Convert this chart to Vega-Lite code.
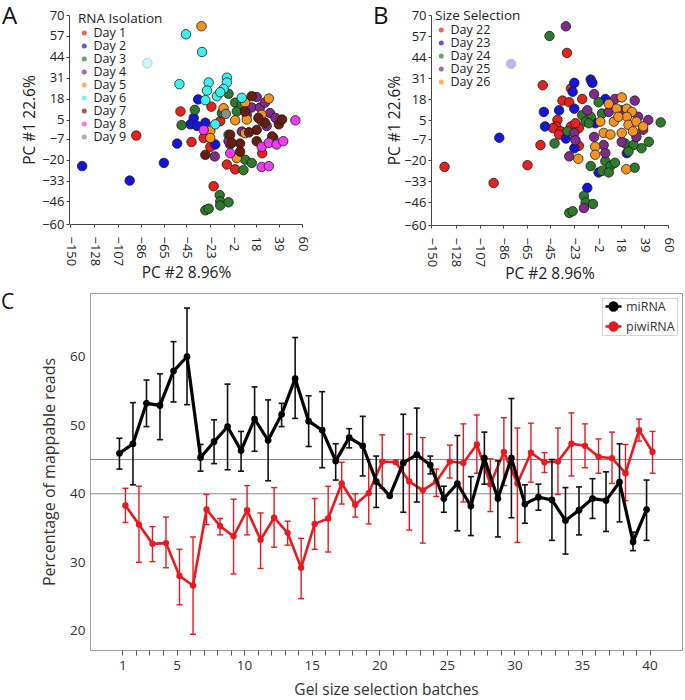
{
  "$schema": "https://vega.github.io/schema/vega-lite/v6.json",
  "padding": {"left": 0, "top": 5, "right": 0, "bottom": 0},
  "spacing": 8,
  "config": {
    "view": {"stroke": null},
    "font": "Open Sans",
    "axis": {"grid": false, "labelColor": "#222", "titleColor": "#222", "titleFontWeight": "normal", "domainColor": "#444", "tickColor": "#444"},
    "title": {"fontWeight": "normal", "fontSize": 24, "anchor": "start", "color": "#111", "frame": "group"},
    "legend": {"titleFontWeight": "normal", "labelColor": "#222", "titleColor": "#222"}
  },
  "resolve": {"scale": {"color": "independent"}},
  "datasets": {
    "pcaA": [
      {"day":"Day 1","x":-50,"y":10,"status":"shown"},{"day":"Day 1","x":-90,"y":-5,"status":"shown"},{"day":"Day 1","x":-40,"y":-9,"status":"shown"},{"day":"Day 1","x":-22,"y":13,"status":"shown"},{"day":"Day 1","x":-29,"y":-6.5,"status":"shown"},{"day":"Day 1","x":-23,"y":-12,"status":"shown"},{"day":"Day 1","x":-14,"y":4,"status":"shown"},{"day":"Day 1","x":-8,"y":-23,"status":"shown"},{"day":"Day 1","x":-0.5,"y":-26,"status":"shown"},{"day":"Day 1","x":24,"y":-16,"status":"shown"},{"day":"Day 1","x":-20,"y":-36.5,"status":"shown"},
      {"day":"Day 2","x":-139,"y":-24,"status":"shown"},{"day":"Day 2","x":-96,"y":-33,"status":"shown"},{"day":"Day 2","x":-65,"y":-22,"status":"shown"},{"day":"Day 2","x":-53,"y":-10,"status":"shown"},{"day":"Day 2","x":-34,"y":17.5,"status":"shown"},{"day":"Day 2","x":-38,"y":6,"status":"shown"},{"day":"Day 2","x":-41,"y":2,"status":"shown"},{"day":"Day 2","x":-35,"y":1,"status":"shown"},{"day":"Day 2","x":-27.5,"y":3,"status":"shown"},{"day":"Day 2","x":-18.5,"y":-10.5,"status":"shown"},
      {"day":"Day 3","x":-49,"y":1.5,"status":"shown"},{"day":"Day 3","x":-37,"y":11,"status":"shown"},{"day":"Day 3","x":-6.5,"y":21,"status":"shown"},{"day":"Day 3","x":-0.5,"y":15.5,"status":"shown"},{"day":"Day 3","x":-12.5,"y":9,"status":"shown"},{"day":"Day 3","x":1,"y":10,"status":"shown"},{"day":"Day 3","x":-6.5,"y":-4.5,"status":"shown"},{"day":"Day 3","x":8.5,"y":-20,"status":"shown"},{"day":"Day 3","x":14.5,"y":-22,"status":"shown"},{"day":"Day 3","x":7,"y":-26.5,"status":"shown"},{"day":"Day 3","x":5.5,"y":14.5,"status":"shown"},{"day":"Day 3","x":-27.5,"y":-51.5,"status":"shown"},{"day":"Day 3","x":-24.5,"y":-50.5,"status":"shown"},{"day":"Day 3","x":-14.5,"y":-42,"status":"shown"},{"day":"Day 3","x":-14,"y":-46,"status":"shown"},{"day":"Day 3","x":-14,"y":-48.5,"status":"shown"},{"day":"Day 3","x":-6.5,"y":-46.5,"status":"shown"},
      {"day":"Day 4","x":19,"y":19,"status":"shown"},{"day":"Day 4","x":14.5,"y":12.5,"status":"shown"},{"day":"Day 4","x":22,"y":12.5,"status":"shown"},{"day":"Day 4","x":31,"y":9,"status":"shown"},{"day":"Day 4","x":5.5,"y":-2.5,"status":"shown"},{"day":"Day 4","x":-5,"y":-10.5,"status":"shown"},{"day":"Day 4","x":-19,"y":-18,"status":"shown"},{"day":"Day 4","x":34,"y":-6.5,"status":"shown"},{"day":"Day 4","x":23.5,"y":4,"status":"shown"},{"day":"Day 4","x":26.5,"y":15.5,"status":"shown"},{"day":"Day 4","x":36,"y":6,"status":"shown"},{"day":"Day 4","x":-6.5,"y":-8.5,"status":"shown"},{"day":"Day 4","x":10,"y":8,"status":"shown"},{"day":"Day 4","x":28,"y":1,"status":"shown"},
      {"day":"Day 5","x":-31,"y":63,"status":"shown"},{"day":"Day 5","x":-11,"y":12,"status":"shown"},{"day":"Day 5","x":-23,"y":-2,"status":"shown"},{"day":"Day 5","x":-23,"y":-6.5,"status":"shown"},{"day":"Day 5","x":-0.5,"y":4.5,"status":"shown"},{"day":"Day 5","x":8.5,"y":15.5,"status":"shown"},{"day":"Day 5","x":8.5,"y":-3.5,"status":"shown"},{"day":"Day 5","x":30,"y":18,"status":"shown"},{"day":"Day 5","x":23.5,"y":8,"status":"shown"},{"day":"Day 5","x":1,"y":-19,"status":"shown"},{"day":"Day 5","x":10,"y":5,"status":"shown"},
      {"day":"Day 6","x":-45,"y":58,"status":"shown"},{"day":"Day 6","x":-30.5,"y":47,"status":"shown"},{"day":"Day 6","x":-51,"y":27,"status":"shown"},{"day":"Day 6","x":-24.5,"y":28,"status":"shown"},{"day":"Day 6","x":-8,"y":31,"status":"shown"},{"day":"Day 6","x":-8,"y":28,"status":"shown"},{"day":"Day 6","x":-26,"y":23,"status":"shown"},{"day":"Day 6","x":-17,"y":19.5,"status":"shown"},{"day":"Day 6","x":-11,"y":24,"status":"shown"},{"day":"Day 6","x":-27.5,"y":17,"status":"shown"},{"day":"Day 6","x":-14,"y":22,"status":"shown"},{"day":"Day 6","x":5.5,"y":18.5,"status":"shown"},{"day":"Day 6","x":-18.5,"y":2,"status":"shown"},{"day":"Day 6","x":-80,"y":40,"status":"faded"},
      {"day":"Day 7","x":14.5,"y":19.5,"status":"shown"},{"day":"Day 7","x":8.5,"y":10,"status":"shown"},{"day":"Day 7","x":26.5,"y":3,"status":"shown"},{"day":"Day 7","x":19,"y":-1.5,"status":"shown"},{"day":"Day 7","x":39,"y":2,"status":"shown"},{"day":"Day 7","x":42,"y":5,"status":"shown"},{"day":"Day 7","x":19,"y":-8.5,"status":"shown"},{"day":"Day 7","x":4,"y":-10,"status":"shown"},{"day":"Day 7","x":4,"y":-15,"status":"shown"},{"day":"Day 7","x":-27.5,"y":-17,"status":"shown"},{"day":"Day 7","x":-5,"y":-4.5,"status":"shown"},{"day":"Day 7","x":33,"y":-5.5,"status":"shown"},{"day":"Day 7","x":-3.5,"y":-9.5,"status":"shown"},{"day":"Day 7","x":20.5,"y":6,"status":"shown"},{"day":"Day 7","x":12,"y":-3,"status":"shown"},
      {"day":"Day 8","x":54,"y":4.5,"status":"shown"},{"day":"Day 8","x":-29,"y":-1.5,"status":"shown"},{"day":"Day 8","x":-5,"y":-16,"status":"shown"},{"day":"Day 8","x":23.5,"y":-12,"status":"shown"},{"day":"Day 8","x":30,"y":-9.5,"status":"shown"},{"day":"Day 8","x":37,"y":-10.5,"status":"shown"},{"day":"Day 8","x":43,"y":-8.5,"status":"shown"},{"day":"Day 8","x":23.5,"y":-24.5,"status":"shown"},{"day":"Day 8","x":30,"y":-24,"status":"shown"},
      {"day":"Day 9","x":-9,"y":8.5,"status":"shown"}
    ],
    "pcaB": [
      {"day":"Day 22","x":-138,"y":-24,"status":"shown"},{"day":"Day 22","x":-94.5,"y":-34,"status":"shown"},{"day":"Day 22","x":-64.5,"y":-23,"status":"shown"},{"day":"Day 22","x":-53,"y":-10.5,"status":"shown"},{"day":"Day 22","x":-51,"y":26.5,"status":"shown"},{"day":"Day 22","x":-29.5,"y":46.5,"status":"shown"},{"day":"Day 22","x":-26,"y":24.5,"status":"shown"},{"day":"Day 22","x":-33.5,"y":17,"status":"shown"},{"day":"Day 22","x":-27.5,"y":16,"status":"shown"},{"day":"Day 22","x":-16,"y":18,"status":"shown"},{"day":"Day 22","x":-38,"y":5,"status":"shown"},{"day":"Day 22","x":-39,"y":1,"status":"shown"},{"day":"Day 22","x":-42,"y":0,"status":"shown"},{"day":"Day 22","x":-35,"y":-2,"status":"shown"},{"day":"Day 22","x":-26,"y":1,"status":"shown"},{"day":"Day 22","x":-19,"y":0,"status":"shown"},{"day":"Day 22","x":-22,"y":3,"status":"shown"},{"day":"Day 22","x":-36.5,"y":-4,"status":"shown"},{"day":"Day 22","x":-19,"y":-11,"status":"shown"},
      {"day":"Day 23","x":-89.5,"y":-6,"status":"shown"},{"day":"Day 23","x":-50,"y":10,"status":"shown"},{"day":"Day 23","x":-49,"y":1,"status":"shown"},{"day":"Day 23","x":-23,"y":28,"status":"shown"},{"day":"Day 23","x":-8.5,"y":30,"status":"shown"},{"day":"Day 23","x":-7,"y":28,"status":"shown"},{"day":"Day 23","x":-24.5,"y":22.5,"status":"shown"},{"day":"Day 23","x":-36.5,"y":11,"status":"shown"},{"day":"Day 23","x":-23,"y":12,"status":"shown"},{"day":"Day 23","x":4.5,"y":18,"status":"shown"},{"day":"Day 23","x":-23,"y":-12.5,"status":"shown"},{"day":"Day 23","x":23.5,"y":-15.5,"status":"shown"},{"day":"Day 23","x":-30.5,"y":-6.5,"status":"shown"},{"day":"Day 23","x":-4.5,"y":3,"status":"shown"},{"day":"Day 23","x":-1.5,"y":-27.5,"status":"shown"},{"day":"Day 23","x":-11.5,"y":-37,"status":"shown"},{"day":"Day 23","x":-79,"y":39.7,"status":"faded"},
      {"day":"Day 24","x":-45,"y":57,"status":"shown"},{"day":"Day 24","x":53.5,"y":3.5,"status":"shown"},{"day":"Day 24","x":-1.5,"y":16,"status":"shown"},{"day":"Day 24","x":-16,"y":8,"status":"shown"},{"day":"Day 24","x":-8.5,"y":7,"status":"shown"},{"day":"Day 24","x":-13,"y":4,"status":"shown"},{"day":"Day 24","x":1.5,"y":9,"status":"shown"},{"day":"Day 24","x":-29,"y":-2,"status":"shown"},{"day":"Day 24","x":-40.5,"y":-9.5,"status":"shown"},{"day":"Day 24","x":22,"y":-9.5,"status":"shown"},{"day":"Day 24","x":29.5,"y":-10.5,"status":"shown"},{"day":"Day 24","x":36.5,"y":-12.5,"status":"shown"},{"day":"Day 24","x":43,"y":-8.5,"status":"shown"},{"day":"Day 24","x":-8.5,"y":-23.5,"status":"shown"},{"day":"Day 24","x":4.5,"y":-20.5,"status":"shown"},{"day":"Day 24","x":9,"y":-23.5,"status":"shown"},{"day":"Day 24","x":13,"y":-21.5,"status":"shown"},{"day":"Day 24","x":1.5,"y":-26.5,"status":"shown"},{"day":"Day 24","x":7.5,"y":-27.5,"status":"shown"},{"day":"Day 24","x":30.5,"y":-24.5,"status":"shown"},{"day":"Day 24","x":25,"y":-14.5,"status":"shown"},{"day":"Day 24","x":-10,"y":3,"status":"shown"},{"day":"Day 24","x":-14.5,"y":-42,"status":"shown"},{"day":"Day 24","x":-13,"y":-46,"status":"shown"},{"day":"Day 24","x":-6.5,"y":-47,"status":"shown"},{"day":"Day 24","x":-27.5,"y":-52.5,"status":"shown"},{"day":"Day 24","x":-24.5,"y":-51.5,"status":"shown"},
      {"day":"Day 25","x":-30.5,"y":63,"status":"shown"},{"day":"Day 25","x":-5.5,"y":21,"status":"shown"},{"day":"Day 25","x":-11.5,"y":11,"status":"shown"},{"day":"Day 25","x":13,"y":18,"status":"shown"},{"day":"Day 25","x":30.5,"y":17,"status":"shown"},{"day":"Day 25","x":19,"y":11,"status":"shown"},{"day":"Day 25","x":-23,"y":-3,"status":"shown"},{"day":"Day 25","x":-22,"y":-7.5,"status":"shown"},{"day":"Day 25","x":-27.5,"y":-17.5,"status":"shown"},{"day":"Day 25","x":-5.5,"y":-5.5,"status":"shown"},{"day":"Day 25","x":3,"y":-10.5,"status":"shown"},{"day":"Day 25","x":4.5,"y":-15.5,"status":"shown"},{"day":"Day 25","x":19,"y":-8.5,"status":"shown"},{"day":"Day 25","x":32,"y":-5.5,"status":"shown"},{"day":"Day 25","x":42.5,"y":5,"status":"shown"},{"day":"Day 25","x":38,"y":-1,"status":"shown"},{"day":"Day 25","x":7.5,"y":10,"status":"shown"},{"day":"Day 25","x":33.5,"y":7,"status":"shown"},{"day":"Day 25","x":-14.5,"y":-49.5,"status":"shown"},
      {"day":"Day 26","x":7.5,"y":15,"status":"shown"},{"day":"Day 26","x":19,"y":19,"status":"shown"},{"day":"Day 26","x":14.5,"y":12,"status":"shown"},{"day":"Day 26","x":23.5,"y":12,"status":"shown"},{"day":"Day 26","x":28,"y":10,"status":"shown"},{"day":"Day 26","x":0,"y":4,"status":"shown"},{"day":"Day 26","x":12,"y":4,"status":"shown"},{"day":"Day 26","x":23.5,"y":7,"status":"shown"},{"day":"Day 26","x":25,"y":2,"status":"shown"},{"day":"Day 26","x":32,"y":4,"status":"shown"},{"day":"Day 26","x":38,"y":1,"status":"shown"},{"day":"Day 26","x":3,"y":-3,"status":"shown"},{"day":"Day 26","x":9,"y":-4,"status":"shown"},{"day":"Day 26","x":19,"y":-3,"status":"shown"},{"day":"Day 26","x":29,"y":-2,"status":"shown"},{"day":"Day 26","x":-4.5,"y":-11.5,"status":"shown"},{"day":"Day 26","x":-4.5,"y":-16.5,"status":"shown"},{"day":"Day 26","x":-19.5,"y":-19,"status":"shown"},{"day":"Day 26","x":23,"y":-25.5,"status":"shown"},{"day":"Day 26","x":16,"y":7,"status":"shown"}
    ],
    "refs": [{"v":45},{"v":40}],
    "reads": [
      {"batch":1,"series":"miRNA","pct":45.9,"lo":43.6,"hi":48.1},{"batch":2,"series":"miRNA","pct":47.3,"lo":41.3,"hi":53.3},{"batch":3,"series":"miRNA","pct":53.2,"lo":49.8,"hi":56.6},{"batch":4,"series":"miRNA","pct":52.9,"lo":47.9,"hi":57.5},{"batch":5,"series":"miRNA","pct":57.9,"lo":53.4,"hi":62.2},{"batch":6,"series":"miRNA","pct":60.0,"lo":53.0,"hi":67.1},{"batch":7,"series":"miRNA","pct":45.3,"lo":43.3,"hi":47.2},{"batch":8,"series":"miRNA","pct":47.6,"lo":44.4,"hi":50.8},{"batch":9,"series":"miRNA","pct":49.8,"lo":43.5,"hi":56.0},{"batch":10,"series":"miRNA","pct":46.3,"lo":43.3,"hi":49.1},
      {"batch":11,"series":"miRNA","pct":50.9,"lo":46.2,"hi":55.6},{"batch":12,"series":"miRNA","pct":47.8,"lo":41.9,"hi":53.7},{"batch":13,"series":"miRNA","pct":51.6,"lo":49.8,"hi":53.2},{"batch":14,"series":"miRNA","pct":56.8,"lo":51.0,"hi":62.8},{"batch":15,"series":"miRNA","pct":50.6,"lo":46.9,"hi":54.3},{"batch":16,"series":"miRNA","pct":49.3,"lo":43.8,"hi":54.9},{"batch":17,"series":"miRNA","pct":44.8,"lo":42.0,"hi":47.3},{"batch":18,"series":"miRNA","pct":48.2,"lo":46.7,"hi":49.5},{"batch":19,"series":"miRNA","pct":47.0,"lo":42.6,"hi":51.3},{"batch":20,"series":"miRNA","pct":41.8,"lo":38.0,"hi":45.5},
      {"batch":21,"series":"miRNA","pct":39.7},{"batch":22,"series":"miRNA","pct":44.5,"lo":37.3,"hi":51.6},{"batch":23,"series":"miRNA","pct":45.7,"lo":38.8,"hi":52.5},{"batch":24,"series":"miRNA","pct":44.2,"lo":42.9,"hi":45.5},{"batch":25,"series":"miRNA","pct":39.3,"lo":37.3,"hi":41.1},{"batch":26,"series":"miRNA","pct":41.5,"lo":34.6,"hi":48.5},{"batch":27,"series":"miRNA","pct":38.2,"lo":33.9,"hi":42.5},{"batch":28,"series":"miRNA","pct":45.2,"lo":41.4,"hi":49.0},{"batch":29,"series":"miRNA","pct":39.3,"lo":33.7,"hi":44.8},{"batch":30,"series":"miRNA","pct":45.2,"lo":36.5,"hi":53.9},
      {"batch":31,"series":"miRNA","pct":38.5,"lo":35.7,"hi":41.3},{"batch":32,"series":"miRNA","pct":39.5,"lo":37.6,"hi":41.4},{"batch":33,"series":"miRNA","pct":39.1,"lo":33.2,"hi":45.0},{"batch":34,"series":"miRNA","pct":36.1,"lo":31.2,"hi":40.9},{"batch":35,"series":"miRNA","pct":37.6,"lo":34.0,"hi":41.0},{"batch":36,"series":"miRNA","pct":39.3,"lo":36.4,"hi":42.2},{"batch":37,"series":"miRNA","pct":39.0,"lo":34.5,"hi":43.2},{"batch":38,"series":"miRNA","pct":41.7,"lo":35.9,"hi":47.3},{"batch":39,"series":"miRNA","pct":33.0,"lo":31.7,"hi":34.4},{"batch":40,"series":"miRNA","pct":37.7,"lo":33.2,"hi":42.0},
      {"batch":1,"series":"piwiRNA","pct":38.3,"lo":35.8,"hi":40.8},{"batch":2,"series":"piwiRNA","pct":35.5,"lo":30.0,"hi":41.1},{"batch":3,"series":"piwiRNA","pct":32.7,"lo":30.1,"hi":35.2},{"batch":4,"series":"piwiRNA","pct":32.8,"lo":29.2,"hi":36.6},{"batch":5,"series":"piwiRNA","pct":28.0,"lo":23.8,"hi":31.9},{"batch":6,"series":"piwiRNA","pct":26.6,"lo":19.5,"hi":33.7},{"batch":7,"series":"piwiRNA","pct":37.7,"lo":35.5,"hi":39.9},{"batch":8,"series":"piwiRNA","pct":35.3,"lo":34.0,"hi":36.4},{"batch":9,"series":"piwiRNA","pct":33.8,"lo":28.3,"hi":39.2},{"batch":10,"series":"piwiRNA","pct":37.6,"lo":34.0,"hi":41.2},
      {"batch":11,"series":"piwiRNA","pct":33.3,"lo":29.1,"hi":37.2},{"batch":12,"series":"piwiRNA","pct":36.5,"lo":32.2,"hi":40.9},{"batch":13,"series":"piwiRNA","pct":34.3,"lo":32.5,"hi":36.0},{"batch":14,"series":"piwiRNA","pct":29.2,"lo":24.7,"hi":33.5},{"batch":15,"series":"piwiRNA","pct":35.6,"lo":31.9,"hi":39.3},{"batch":16,"series":"piwiRNA","pct":36.4,"lo":31.5,"hi":41.1},{"batch":17,"series":"piwiRNA","pct":41.5,"lo":38.5,"hi":44.6},{"batch":18,"series":"piwiRNA","pct":38.4,"lo":36.6,"hi":40.0},{"batch":19,"series":"piwiRNA","pct":40.1,"lo":35.6,"hi":45.0},{"batch":20,"series":"piwiRNA","pct":44.7,"lo":40.8,"hi":48.6},
      {"batch":21,"series":"piwiRNA","pct":44.6},{"batch":22,"series":"piwiRNA","pct":41.8,"lo":34.7,"hi":48.7},{"batch":23,"series":"piwiRNA","pct":40.5,"lo":32.8,"hi":48.2},{"batch":24,"series":"piwiRNA","pct":41.8,"lo":39.6,"hi":43.6},{"batch":25,"series":"piwiRNA","pct":44.7,"lo":42.3,"hi":47.1},{"batch":26,"series":"piwiRNA","pct":44.5,"lo":38.8,"hi":50.2},{"batch":27,"series":"piwiRNA","pct":47.2,"lo":43.0,"hi":51.5},{"batch":28,"series":"piwiRNA","pct":41.4,"lo":37.4,"hi":45.1},{"batch":29,"series":"piwiRNA","pct":46.1,"lo":41.2,"hi":51.1},{"batch":30,"series":"piwiRNA","pct":41.5,"lo":32.9,"hi":49.6},
      {"batch":31,"series":"piwiRNA","pct":46.0,"lo":41.7,"hi":50.3},{"batch":32,"series":"piwiRNA","pct":44.6,"lo":43.1,"hi":46.0},{"batch":33,"series":"piwiRNA","pct":44.7,"lo":39.9,"hi":49.6},{"batch":34,"series":"piwiRNA","pct":47.3,"lo":42.6,"hi":51.8},{"batch":35,"series":"piwiRNA","pct":47.0,"lo":43.8,"hi":50.2},{"batch":36,"series":"piwiRNA","pct":45.4,"lo":43.0,"hi":48.0},{"batch":37,"series":"piwiRNA","pct":45.2,"lo":41.5,"hi":49.0},{"batch":38,"series":"piwiRNA","pct":43.0,"lo":39.0,"hi":47.2},{"batch":39,"series":"piwiRNA","pct":49.3,"lo":47.7,"hi":50.9},{"batch":40,"series":"piwiRNA","pct":46.1,"lo":43.0,"hi":49.1}
    ]
  },
  "vconcat": [
    {
      "hconcat": [
        {
          "width": 212, "height": 209,
          "title": {"text": "A", "dx": -88, "dy": 24},
          "data": {"name": "pcaA"},
          "mark": {"type": "circle", "size": 90, "stroke": "#1a1a1a", "strokeWidth": 0.8},
          "encoding": {
            "x": {"field": "x", "type": "quantitative", "scale": {"domain": [-150, 60], "range": [-20, 212], "nice": false, "zero": false},
                  "axis": {"values": [-150,-128,-107,-86,-65,-45,-23,-2,18,39,60], "labelAngle": 90, "labelFontSize": 13, "tickSize": 3, "labelPadding": 9, "title": "PC #2 8.96%", "titleFontSize": 15.5, "titlePadding": 0, "titleX": 96}},
            "y": {"field": "y", "type": "quantitative", "scale": {"domain": [-60, 70], "nice": false, "zero": false},
                  "axis": {"offset": 21, "values": [70,57,44,31,18,5,-7,-20,-33,-46,-60], "labelFontSize": 13, "tickSize": 3, "labelPadding": 2, "title": "PC #1 22.6%", "titleFontSize": 15.5, "titleBaseline": "middle", "titleX": -40}},
            "color": {"field": "day", "type": "nominal",
                      "scale": {"domain": ["Day 1","Day 2","Day 3","Day 4","Day 5","Day 6","Day 7","Day 8","Day 9"],
                                "range": ["#e8211d","#1414dc","#2d7a2d","#7d2c8c","#f7941d","#3ff0f0","#6b1d0c","#f03cf0","#8c8c8c"]},
                      "legend": {"title": "RNA Isolation", "orient": "none", "legendX": -12, "legendY": -3, "titleFontSize": 13.5, "labelFontSize": 12.5, "symbolSize": 25, "symbolStrokeWidth": 0, "rowPadding": 0, "clipHeight": 11, "titlePadding": 2, "labelOffset": 3}},
            "opacity": {"field": "status", "type": "nominal", "scale": {"domain": ["shown","faded"], "range": [1, 0.3]}, "legend": null}
          }
        },
        {
          "width": 237, "height": 210,
          "title": {"text": "B", "dx": -58, "dy": 24},
          "data": {"name": "pcaB"},
          "mark": {"type": "circle", "size": 90, "stroke": "#1a1a1a", "strokeWidth": 0.8},
          "encoding": {
            "x": {"field": "x", "type": "quantitative", "scale": {"domain": [-150, 60], "nice": false, "zero": false},
                  "axis": {"values": [-150,-128,-107,-86,-65,-45,-23,-2,18,39,60], "labelAngle": 90, "labelFontSize": 13, "tickSize": 3, "labelPadding": 9, "title": "PC #2 8.96%", "titleFontSize": 15.5, "titlePadding": 0}},
            "y": {"field": "y", "type": "quantitative", "scale": {"domain": [-60, 70], "nice": false, "zero": false},
                  "axis": {"values": [70,57,44,31,18,5,-7,-20,-33,-46,-60], "labelFontSize": 13, "tickSize": 3, "labelPadding": 2, "title": "PC #1 22.6%", "titleFontSize": 15.5, "titleBaseline": "middle", "titleX": -37}},
            "color": {"field": "day", "type": "nominal",
                      "scale": {"domain": ["Day 22","Day 23","Day 24","Day 25","Day 26"],
                                "range": ["#e8211d","#1414dc","#2d7a2d","#7d2c8c","#f7941d"]},
                      "legend": {"title": "Size Selection", "orient": "none", "legendX": 4, "legendY": -6, "titleFontSize": 13.5, "labelFontSize": 12.5, "symbolSize": 25, "symbolStrokeWidth": 0, "rowPadding": 0, "clipHeight": 11, "titlePadding": 2, "labelOffset": 3}},
            "opacity": {"field": "status", "type": "nominal", "scale": {"domain": ["shown","faded"], "range": [1, 0.3]}, "legend": null}
          }
        }
      ],
      "spacing": 51,
      "resolve": {"scale": {"color": "independent"}}
    },
    {
      "width": 592, "height": 357,
      "title": {"text": "C", "dx": -89, "dy": 24, "fontSize": 21},
      "view": {"stroke": "#a0a0a0"},
      "data": {"name": "reads"},
      "encoding": {
        "x": {"field": "batch", "type": "quantitative", "scale": {"domain": [-1.4, 42.4], "nice": false, "zero": false},
              "axis": {"values": [1,2,3,4,5,6,7,8,9,10,11,12,13,14,15,16,17,18,19,20,21,22,23,24,25,26,27,28,29,30,31,32,33,34,35,36,37,38,39,40],
                       "labelExpr": "datum.value == 1 || datum.value % 5 == 0 ? datum.label : ''",
                       "domain": false, "tickSize": 5, "tickColor": "#555", "labelFontSize": 13.5, "labelColor": "#333", "labelPadding": 3,
                       "title": "Gel size selection batches", "titleFontSize": 15.5, "titlePadding": 11, "titleColor": "#333"}},
        "y": {"field": "pct", "type": "quantitative", "scale": {"domain": [17.2, 69.3], "nice": false, "zero": false},
              "axis": {"values": [20,30,40,50,60], "domain": false, "ticks": false, "labelFontSize": 13.5, "labelColor": "#333", "labelPadding": 5,
                       "title": "Percentage of mappable reads", "titleFontSize": 16, "titlePadding": 12, "titleColor": "#333"}}
      },
      "layer": [
        {
          "data": {"name": "refs"},
          "mark": {"type": "rule", "color": "#8a8a8a", "strokeWidth": 1},
          "encoding": {"y": {"field": "v", "type": "quantitative"}, "x": null}
        },
        {
          "transform": [{"filter": "datum.series == 'piwiRNA'"}],
          "layer": [
            {"mark": {"type": "rule", "color": "#e8191f", "strokeWidth": 1.4, "xOffset": 3}, "encoding": {"y": {"field": "lo", "type": "quantitative"}, "y2": {"field": "hi"}}},
            {"mark": {"type": "tick", "orient": "horizontal", "color": "#e8191f", "size": 6, "thickness": 1.4, "xOffset": 3, "opacity": 1}, "encoding": {"y": {"field": "lo", "type": "quantitative"}}},
            {"mark": {"type": "tick", "orient": "horizontal", "color": "#e8191f", "size": 6, "thickness": 1.4, "xOffset": 3, "opacity": 1}, "encoding": {"y": {"field": "hi", "type": "quantitative"}}},
            {"mark": {"type": "line", "strokeWidth": 2.6, "xOffset": 3},
             "encoding": {"color": {"field": "series", "type": "nominal", "scale": {"domain": ["miRNA","piwiRNA"], "range": ["#000000","#e8191f"]},
                                    "legend": {"title": null, "orient": "top-right", "offset": 5, "strokeColor": "#d4d4d4", "padding": 2, "labelFontSize": 12.5, "labelColor": "#333", "symbolSize": 256, "symbolStrokeWidth": 2.6, "rowPadding": 7, "clipHeight": 13, "labelOffset": 3,
                                               "symbolType": "M-1,0H1M-0.48,0A0.48,0.48,0,1,1,0.48,0A0.48,0.48,0,1,1,-0.48,0Z",
                                               "encode": {"symbols": {"update": {"fill": {"signal": "datum.value === 'miRNA' ? '#000000' : '#e8191f'"}}}}}}}},
            {"mark": {"type": "circle", "color": "#e8191f", "size": 40, "opacity": 1, "xOffset": 3}}
          ]
        },
        {
          "transform": [{"filter": "datum.series == 'miRNA'"}],
          "layer": [
            {"mark": {"type": "rule", "color": "#111111", "strokeWidth": 1.6, "xOffset": -3}, "encoding": {"y": {"field": "lo", "type": "quantitative"}, "y2": {"field": "hi"}}},
            {"mark": {"type": "tick", "orient": "horizontal", "color": "#111111", "size": 6, "thickness": 1.6, "xOffset": -3, "opacity": 1}, "encoding": {"y": {"field": "lo", "type": "quantitative"}}},
            {"mark": {"type": "tick", "orient": "horizontal", "color": "#111111", "size": 6, "thickness": 1.6, "xOffset": -3, "opacity": 1}, "encoding": {"y": {"field": "hi", "type": "quantitative"}}},
            {"mark": {"type": "line", "strokeWidth": 3.2, "xOffset": -3},
             "encoding": {"color": {"field": "series", "type": "nominal", "scale": {"domain": ["miRNA","piwiRNA"], "range": ["#000000","#e8191f"]}}}},
            {"mark": {"type": "circle", "color": "#000000", "size": 45, "opacity": 1, "xOffset": -3}}
          ]
        }
      ]
    }
  ]
}
